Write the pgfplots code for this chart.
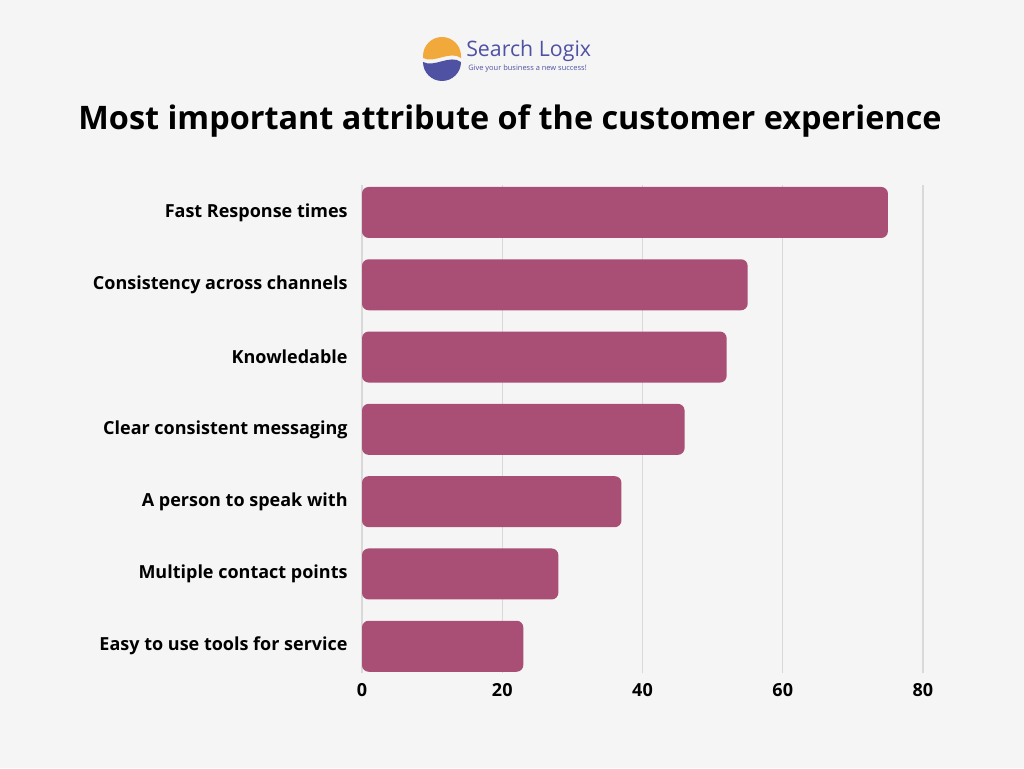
\documentclass[border=0pt]{standalone}
\usepackage{pgfplots}
\pgfplotsset{compat=1.18}
\usepackage{fontspec}
\setmainfont{Open Sans}
\definecolor{bgcol}{HTML}{F5F5F5}
\definecolor{barcol}{HTML}{A94E75}
\definecolor{logoblue}{HTML}{4F51A3}
\definecolor{logoorange}{HTML}{F2A93B}
\begin{document}
\begin{tikzpicture}[x=0.75pt,y=0.75pt]
% page is 1024 x 768 px, 1 px = 0.75pt
\useasboundingbox (0,0) rectangle (1024,768);
\fill[bgcol] (0,0) rectangle (1024,768);
% logo
\begin{scope}[shift={(442,712)}]
  \fill[logoorange] (-19,0) arc (180:0:19) -- (19,-2) .. controls (8,6) and (-8,-8) .. (-19,-2) -- cycle;
  \fill[logoblue] (-19,-6) .. controls (-8,-12) and (8,2) .. (19,-6) arc (0:-180:19) -- cycle;
\end{scope}
\node[anchor=base west, inner sep=0pt, text=logoblue, font=\fontsize{16}{18}\selectfont] at (466,711) {Search Logix};
\node[anchor=base west, inner sep=0pt, text=logoblue, font=\fontsize{5.6}{7}\selectfont] at (468,697) {Give your business a new success!};
% title
\node[anchor=base, inner sep=0pt, font=\bfseries\fontsize{24.3}{29}\selectfont] at (510,638) {Most important attribute of the customer experience};
\begin{axis}[
  at={(271.5pt,71.25pt)}, anchor=south west,
  scale only axis,
  width=420.75pt, height=366pt,
  xbar, bar width=38.25pt,
  xmin=0, xmax=80, ymin=-0.37, ymax=6.38,
  xtick={0,20,40,60,80},
  ytick={0,...,6},
  yticklabels={Easy to use tools for service, Multiple contact points, A person to speak with, Clear consistent messaging, Knowledable, Consistency across channels, Fast Response times},
  axis line style={draw=none},
  tick style={draw=none},
  xmajorgrids,
  grid style={black!15, line width=0.9pt},
  ticklabel style={font=\bfseries\fontsize{13.5}{16}\selectfont},
  /pgf/number format/assume math mode=true,
  yticklabel style={xshift=-3pt},
  xticklabel style={yshift=-4.5pt},
]
\addplot[fill=barcol, draw=none, rounded corners=5pt]
  coordinates {(23,0) (28,1) (37,2) (46,3) (52,4) (55,5) (75,6)};
\end{axis}
\end{tikzpicture}
\end{document}
